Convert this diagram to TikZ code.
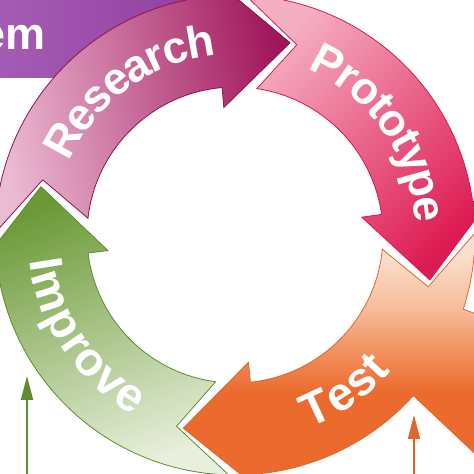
\documentclass[tikz,border=0pt]{standalone}
\usepackage{fontspec}
\setmainfont{Liberation Sans}
\usepackage{tikz}
\usetikzlibrary{arrows.meta}
\usetikzlibrary{decorations.text}
\usetikzlibrary{positioning}
\definecolor{problemleft}{HTML}{A65DB4}
\definecolor{problemright}{HTML}{8E3B9F}
\definecolor{researchlight}{HTML}{EBBAD3}
\definecolor{researchdark}{HTML}{A0145A}
\definecolor{researchline}{HTML}{8A1450}
\definecolor{protolight}{HTML}{F5AFC3}
\definecolor{protodark}{HTML}{DE1A52}
\definecolor{protoline}{HTML}{D31A4E}
\definecolor{testlight}{HTML}{FBE0CF}
\definecolor{testpale}{HTML}{F6BB98}
\definecolor{testmid}{HTML}{F29A6A}
\definecolor{testdark}{HTML}{EB6A2E}
\definecolor{testline}{HTML}{E0662A}
\definecolor{improvedark}{HTML}{6B9936}
\definecolor{improvelight}{HTML}{E8EFDC}
\definecolor{improveline}{HTML}{5E8C2E}
\pgfdeclareverticalshading{testfade}{100bp}{color(0bp)=(testdark); color(44bp)=(testdark);
    color(54bp)=(testmid); color(60bp)=(testpale); color(71bp)=(testlight); color(100bp)=(testlight)}
\tikzstyle{cycarrow} = [line width=0.8pt, line join=miter]
\tikzstyle{research} = [cycarrow, draw=researchline, top color=researchlight,
    bottom color=researchdark, shading angle=100]
\tikzstyle{prototype} = [cycarrow, draw=protoline, top color=protolight,
    bottom color=protodark, shading angle=45]
\tikzstyle{test} = [cycarrow, draw=testline, shading=testfade]
\tikzstyle{improve} = [cycarrow, draw=improveline, top color=improvedark,
    bottom color=improvelight, shading angle=20]
\tikzstyle{arclabel} = [decorate, decoration={text along path,
    text align=center, text color=white, raise=-13pt}]
\tikzstyle{feed} = [line width=2pt, ->]
\newcommand{\labelfont}{\fontsize{45}{45}\selectfont\bfseries}
\newcommand{\biglabelfont}{\fontsize{47}{47}\selectfont\bfseries}

\begin{document}
\begin{tikzpicture}[x=1pt, y=1pt, >={Triangle[length=24pt,width=12pt]}]
    \useasboundingbox (0,0) rectangle (474,474);

    % problem box, cut by the frame
    \shade[left color=problemleft, right color=problemright] (-10,396) rectangle (230,484);
    \node[anchor=base east, inner sep=0pt, text=white, font=\labelfont] (problem) at (46,424) {em};

    \begin{scope}[shift={(235,239)}]
    % the four arrows of the cycle
    \draw[research] (179.5:240) arc[start angle=179.5, end angle=95, radius=240]
        -- (95:258) -- (74:200) -- (95:128) -- (95:148)
        arc[start angle=95, end angle=173.5, radius=148] -- (164:200) -- cycle;
    \draw[prototype] (87.5:240) arc[start angle=87.5, end angle=8, radius=240]
        -- (8:258) -- (-13:200) -- (8:128) -- (8:148)
        arc[start angle=8, end angle=81.5, radius=148] -- (72:200) -- cycle;
    \shadedraw[test] (0.5:240) arc[start angle=0.5, end angle=-18, radius=240]
        -- (252,-83) -- (252,-230) -- (-42:240)
        arc[start angle=-42, end angle=-84, radius=240]
        -- (-84:258) -- (-105:200) -- (-84:128) -- (-84:148)
        arc[start angle=-84, end angle=-5.5, radius=148] -- (-15:200) -- cycle;
    \draw[improve] (268.5:240) arc[start angle=268.5, end angle=187, radius=240]
        -- (187:258) -- (166:200) -- (187:128) -- (187:148)
        arc[start angle=187, end angle=262.5, radius=148] -- (253:200) -- cycle;

    % labels along the arrows
    \path[arclabel, decoration={text={|\labelfont|Research}}]
        (170:194) arc[start angle=170, end angle=82, radius=194];
    \path[arclabel, decoration={text={|\labelfont|Prototype}}]
        (80:194) arc[start angle=80, end angle=-10, radius=194];
    \path[arclabel, decoration={text={|\biglabelfont|Test}}]
        (-100:194) arc[start angle=-100, end angle=-10, radius=194];
    \path[arclabel, decoration={text={|\biglabelfont|Improve}}]
        (170:194) arc[start angle=170, end angle=258, radius=194];
    \end{scope}

    % feeds from below
    \coordinate (greenfoot) at (27,-5);
    \coordinate (greentip) at (27,98);
    \draw[feed, draw=improveline] (greenfoot) -- (greentip);
    \coordinate (orangefoot) at (414,-5);
    \coordinate (orangetip) at (414,59);
    \draw[feed, draw=testline] (orangefoot) -- (orangetip);
\end{tikzpicture}
\end{document}
